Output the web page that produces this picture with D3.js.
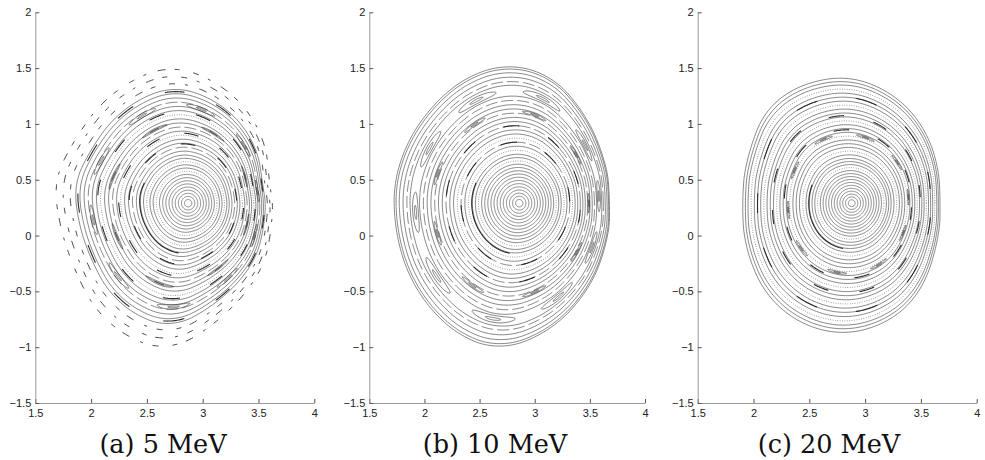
<!DOCTYPE html>
<html>
<head>
<meta charset="utf-8">
<script src="https://cdn.jsdelivr.net/npm/d3@7"></script>
<style>
body { margin: 0; background: #fff; }
svg { display: block; }
.tick text { font-family: "Liberation Sans", Arial, sans-serif; font-size: 11px; fill: #222; }
.caption { font-family: "DejaVu Serif", serif; font-size: 25.5px; fill: #111; }
</style>
</head>
<body>
<svg id="chart" width="985" height="460"></svg>
<script>
// axis ticks and captions
const xTicks = [1.5, 2, 2.5, 3, 3.5, 4];
const yTicks = [-1.5, -1, -0.5, 0, 0.5, 1, 1.5, 2];
const captions = ["(a) 5 MeV", "(b) 10 MeV", "(c) 20 MeV"];

// magnetic axis of each panel (R, Z)
const axisA = [2.87, 0.29];
const axisB = [2.86, 0.29];
const axisC = [2.88, 0.29];

// outermost surface (R, Z)
const boundaryA = [[1.676, 0.47], [1.87, 0.857], [2.17, 1.245], [2.71, 1.51], [3.21, 1.30], [3.51, 0.916],
  [3.58, 0.5], [3.6, 0.05], [3.39, -0.49], [3.12, -0.755], [2.68, -1.02], [2.38, -0.93], [2.08, -0.70],
  [1.86, -0.28], [1.72, 0.17]];
const boundaryB = [[1.733, 0.436], [1.853, 0.824], [2.08, 1.152], [2.352, 1.391], [2.745, 1.525], [3.137, 1.421],
  [3.409, 1.122], [3.59, 0.764], [3.666, 0.316], [3.62, -0.131], [3.44, -0.519], [3.107, -0.848], [2.684, -1.012],
  [2.352, -0.907], [2.05, -0.639], [1.838, -0.281], [1.748, 0.078]];
const boundaryC = [[1.915, 0.29], [1.98, 0.767], [2.12, 1.12], [2.34, 1.30], [2.85, 1.415], [3.30, 1.215],
  [3.54, 0.914], [3.64, 0.62], [3.66, 0.3], [3.63, -0.08], [3.56, -0.33], [3.44, -0.56], [3.21, -0.76],
  [2.79, -0.877], [2.38, -0.755], [2.10, -0.49], [1.97, -0.19]];

// surfaces: [normalised radius, style]  s solid, d dotted, b broken, f fragments
const surfacesA = [[0.03, "s"], [0.055, "s"], [0.08, "s"], [0.105, "s"], [0.13, "s"], [0.155, "s"], [0.18, "s"],
  [0.205, "s"], [0.23, "s"], [0.255, "d"], [0.28, "s"], [0.305, "s"], [0.33, "d"], [0.355, "s"], [0.38, "s"],
  [0.41, "s"], [0.44, "b"], [0.47, "s"], [0.50, "s"], [0.53, "d"], [0.56, "s"], [0.59, "b"], [0.62, "s"],
  [0.65, "s"], [0.68, "d"], [0.71, "s"], [0.74, "s"], [0.77, "b"], [0.80, "s"], [0.83, "s"], [0.86, "s"],
  [0.9, "f"], [0.95, "f"], [1.0, "f"]];
const surfacesB = [[0.03, "s"], [0.055, "s"], [0.08, "s"], [0.105, "s"], [0.13, "s"], [0.155, "s"], [0.18, "s"],
  [0.205, "s"], [0.23, "s"], [0.255, "s"], [0.28, "s"], [0.305, "s"], [0.33, "d"], [0.355, "s"], [0.38, "s"],
  [0.41, "d"], [0.44, "s"], [0.47, "b"], [0.50, "d"], [0.53, "s"], [0.56, "s"], [0.59, "b"], [0.62, "s"],
  [0.65, "s"], [0.68, "b"], [0.71, "s"], [0.74, "s"], [0.77, "b"], [0.80, "s"], [0.875, "s"], [0.90, "b"],
  [0.93, "s"], [0.96, "s"], [0.985, "s"], [1.0, "s"]];
const surfacesC = [[0.03, "s"], [0.055, "s"], [0.08, "s"], [0.105, "s"], [0.13, "s"], [0.155, "s"], [0.18, "s"],
  [0.205, "s"], [0.23, "s"], [0.255, "s"], [0.28, "s"], [0.305, "d"], [0.33, "s"], [0.355, "s"], [0.38, "s"],
  [0.41, "s"], [0.44, "d"], [0.47, "s"], [0.50, "s"], [0.53, "s"], [0.56, "d"], [0.59, "s"], [0.62, "s"],
  [0.65, "s"], [0.68, "d"], [0.71, "s"], [0.74, "s"], [0.77, "s"], [0.80, "d"], [0.83, "s"], [0.86, "s"],
  [0.89, "s"], [0.92, "d"], [0.95, "s"], [0.975, "s"], [1.0, "s"]];

// island chains: [radius, count, first angle deg, half length deg, half width]
const islandsA = [[0.755, 10, 190, 9, 0.014], [0.62, 8, 160, 10, 0.009]];
const islandsB = [[0.835, 10, 185, 11, 0.022], [0.695, 9, 200, 8, 0.01]];
const islandsC = [[0.575, 10, 150, 8, 0.008]];

// dark dash chains: [radius, count, first angle deg, half length deg]
const dashesA = [[0.385, 1, 207, 52], [0.465, 9, 170, 7], [0.545, 11, 120, 6], [0.70, 12, 200, 5], [0.845, 13, 180, 5]];
const dashesB = [[0.385, 1, 207, 52], [0.47, 8, 100, 8], [0.59, 10, 60, 6]];
const dashesC = [[0.385, 1, 207, 52], [0.61, 10, 170, 6], [0.72, 12, 100, 5], [0.86, 11, 180, 6]];

const panels = [
  { axis: axisA, boundary: boundaryA, surfaces: surfacesA, islands: islandsA, dashes: dashesA, left: 35.3, right: 314.3, cap: 163 },
  { axis: axisB, boundary: boundaryB, surfaces: surfacesB, islands: islandsB, dashes: dashesB, left: 369.3, right: 645, cap: 495 },
  { axis: axisC, boundary: boundaryC, surfaces: surfacesC, islands: islandsC, dashes: dashesC, left: 697.7, right: 976.7, cap: 829 }
];

const TAU = Math.PI * 2;
const DEG = Math.PI / 180;
const plotTop = 12.3, plotBottom = 403;
const svg = d3.select("#chart");
const fmt = d => String(d).replace("-", "\u2212");

// smooth closed radius function around the magnetic axis
function makeShape(axis, boundary) {
  const pts = boundary.map(([bx, by]) => {
    let a = Math.atan2(by - axis[1], bx - axis[0]);
    if (a < 0) a += TAU;
    return { a, r: Math.hypot(bx - axis[0], by - axis[1]) };
  }).sort((p, q) => p.a - q.a);
  const n = pts.length;
  const rMean = d3.mean(pts, p => p.r);
  // piecewise linear radius per degree, then a circular moving average
  const raw = d3.range(360).map(deg => {
    const t = deg * DEG;
    for (let i = 0; i < n; i++) {
      const p1 = pts[i], p2 = pts[(i + 1) % n];
      let a2 = p2.a, tt = t;
      if (i === n - 1) { a2 += TAU; if (tt < p1.a) tt += TAU; }
      if (tt >= p1.a && tt <= a2) return p1.r + (p2.r - p1.r) * (tt - p1.a) / (a2 - p1.a);
    }
    return rMean;
  });
  const win = 10;
  const table = raw.map((_, k) => d3.mean(d3.range(-win, win + 1), o => raw[(k + o + 360) % 360]));
  function bR(t) {
    let d = ((t / DEG) % 360 + 360) % 360;
    const k = Math.floor(d), f = d - k;
    return table[k] * (1 - f) + table[(k + 1) % 360] * f;
  }
  return (rho, t) => {
    const r = rho * ((1 - rho) * rMean + rho * bR(t));
    return [axis[0] + r * Math.cos(t), axis[1] + r * Math.sin(t)];
  };
}

panels.forEach((p, i) => {
  const x = d3.scaleLinear().domain([1.5, 4]).range([p.left, p.right]);
  const y = d3.scaleLinear().domain([-1.5, 2]).range([plotBottom, plotTop]);
  const shape = makeShape(p.axis, p.boundary);
  const line = d3.line().x(d => x(d[0])).y(d => y(d[1]));
  const g = svg.append("g");

  // flux surfaces
  const dash = { s: null, d: "0.8 1.6", b: "12 4", f: "5 9 8 12 3 10 6 14" };
  g.selectAll("path.surf")
    .data(p.surfaces)
    .join("path")
    .attr("class", "surf")
    .attr("d", d => line.curve(d3.curveLinearClosed)(d3.range(240).map(j => shape(d[0], j / 240 * TAU))))
    .attr("fill", "none")
    .attr("stroke", "#3a3a3a")
    .attr("stroke-width", d => d[1] === "f" ? 0.9 : 0.6)
    .attr("stroke-dasharray", d => dash[d[1]])
    .attr("stroke-dashoffset", d => d[1] === "f" ? d[0] * 90 : 0);

  // island chains
  const loops = [];
  p.islands.forEach(([rho, m, phase, half, w]) => {
    for (let k = 0; k < m; k++) {
      const tc = (phase + k * 360 / m) * DEG;
      [1, 0.35].forEach(f => loops.push({ rho, tc, half: half * f * DEG, w: w * f }));
    }
  });
  g.selectAll("path.isl")
    .data(loops)
    .join("path")
    .attr("class", "isl")
    .attr("d", d => line.curve(d3.curveLinearClosed)(d3.range(48).map(j => {
      const ph = j / 48 * TAU;
      return shape(d.rho + d.w * Math.sin(ph), d.tc + d.half * Math.cos(ph));
    })))
    .attr("fill", "none")
    .attr("stroke", "#333")
    .attr("stroke-width", 0.6);

  // dark dash chains
  const arcs = [];
  p.dashes.forEach(([rho, m, phase, half]) => {
    for (let k = 0; k < m; k++) arcs.push({ rho, tc: (phase + k * 360 / m) * DEG, half: half * DEG });
  });
  g.selectAll("path.arc")
    .data(arcs)
    .join("path")
    .attr("class", "arc")
    .attr("d", d => line.curve(d3.curveLinear)(d3.range(21).map(j => shape(d.rho, d.tc - d.half + 2 * d.half * j / 20))))
    .attr("fill", "none")
    .attr("stroke", "#2a2a2a")
    .attr("stroke-width", 1.1);

  // axes
  const ax = g.append("g")
    .attr("transform", `translate(0,${plotBottom})`)
    .call(d3.axisBottom(x).tickValues(xTicks).tickFormat(fmt).tickSizeInner(-4).tickSizeOuter(0).tickPadding(6));
  const ay = g.append("g")
    .attr("transform", `translate(${p.left},0)`)
    .call(d3.axisLeft(y).tickValues(yTicks).tickFormat(fmt).tickSizeInner(-4).tickSizeOuter(0).tickPadding(4));
  [ax, ay].forEach(a => {
    a.select(".domain").attr("stroke", "#999");
    a.selectAll(".tick line").attr("stroke", "#555");
  });

  g.append("text")
    .attr("class", "caption")
    .attr("x", p.cap)
    .attr("y", 453)
    .attr("text-anchor", "middle")
    .text(captions[i]);
});
</script>
</body>
</html>
